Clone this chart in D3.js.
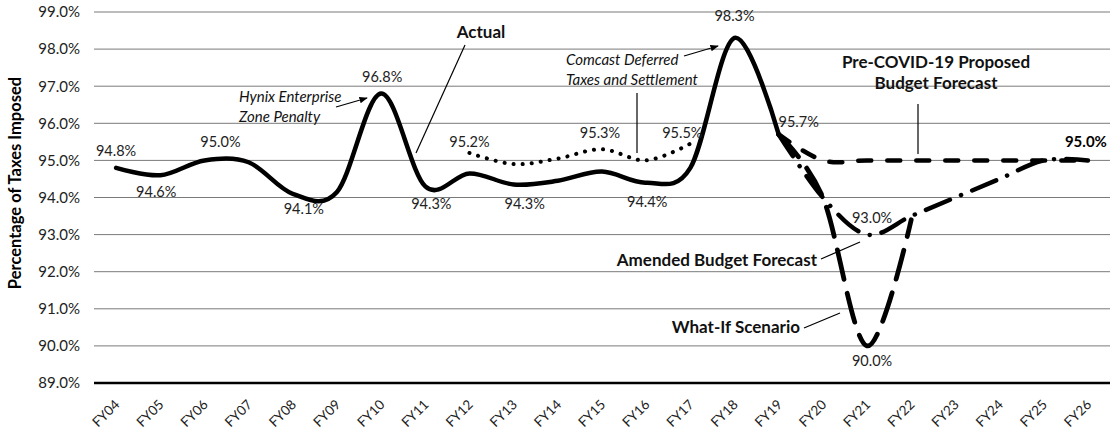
<!DOCTYPE html>
<html>
<head>
<meta charset="utf-8">
<script src="https://cdn.jsdelivr.net/npm/d3@7"></script>
<style>
  body { margin: 0; background: #fff; }
  svg { font-family: Lato, "Open Sans", sans-serif; }
</style>
</head>
<body>
<svg id="chart" width="1112" height="429"></svg>
<script>
// categories and series
var categories = ["FY04","FY05","FY06","FY07","FY08","FY09","FY10","FY11","FY12","FY13","FY14","FY15",
                  "FY16","FY17","FY18","FY19","FY20","FY21","FY22","FY23","FY24","FY25","FY26"];
var actualYears = categories.slice(0, 16);
var actual = [94.8, 94.6, 95.0, 94.95, 94.1, 94.15, 96.8, 94.3, 94.65, 94.35, 94.45, 94.7, 94.4, 94.8, 98.3, 95.7];
var comcastYears = ["FY12","FY13","FY14","FY15","FY16","FY17"];
var comcast = [95.2, 94.9, 95.05, 95.3, 95.0, 95.45];
var forecastYears = ["FY19","FY20","FY21","FY22","FY23","FY24","FY25","FY26"];
var preCovid = [95.7, 95.0, 95.0, 95.0, 95.0, 95.0, 95.0, 95.0];
var amended = [95.7, 94.0, 93.0, 93.5, 94.0, 94.5, 95.0, 95.0];
var whatIfYears = ["FY19","FY20","FY21","FY22"];
var whatIf = [95.7, 94.0, 90.0, 93.4];
var yTicks = [89, 90, 91, 92, 93, 94, 95, 96, 97, 98, 99];

var svg = d3.select("#chart"),
    margin = {top: 12, left: 94, right: 2, bottom: 46},
    width = 1112 - margin.left - margin.right,
    height = 429 - margin.top - margin.bottom;

var x = d3.scalePoint().domain(categories).range([margin.left, margin.left + width]).padding(0.5);
var y = d3.scaleLinear().domain([89, 99]).range([margin.top + height, margin.top]);
var fmt = function(v) { return v.toFixed(1) + "%"; };

// gridlines
svg.append("g")
    .selectAll("line")
    .data(yTicks.filter(function(t) { return t > 89; }))
    .enter()
    .append("line")
    .attr("x1", margin.left).attr("x2", margin.left + width)
    .attr("y1", function(d) { return y(d); }).attr("y2", function(d) { return y(d); })
    .attr("stroke", "#7a7a7a").attr("stroke-width", 1);

// y axis labels
var yAxis = svg.append("g")
    .attr("transform", "translate(" + margin.left + ",0)")
    .call(d3.axisLeft(y).tickValues(yTicks).tickFormat(fmt).tickSize(0).tickPadding(14));
yAxis.select(".domain").remove();
yAxis.selectAll("text").attr("font-size", 15).attr("fill", "#222").style("font-family", "Lato");

// baseline
svg.append("line")
    .attr("x1", margin.left).attr("x2", margin.left + width)
    .attr("y1", y(89)).attr("y2", y(89))
    .attr("stroke", "#000").attr("stroke-width", 2.5);

// x labels, rotated 45 degrees
var xLab = svg.append("g")
    .selectAll("g")
    .data(categories)
    .enter()
    .append("g")
    .attr("transform", function(d) { return "translate(" + (x(d) + 1) + "," + (y(89) + 19) + ")"; });
xLab.append("text")
    .attr("transform", "rotate(-45)")
    .style("text-anchor", "end")
    .attr("dy", "0.35em")
    .attr("font-size", 13.5).attr("fill", "#222")
    .text(function(d) { return d; });

// axis title
svg.append("text")
    .attr("transform", "translate(21," + 183 + ") rotate(-90)")
    .attr("text-anchor", "middle")
    .attr("font-size", 16.5).attr("font-weight", "bold")
    .text("Percentage of Taxes Imposed");

var line = d3.line()
    .x(function(d) { return x(d.year); })
    .y(function(d) { return y(d.value); })
    .curve(d3.curveCatmullRom.alpha(0));

function pairs(years, values) {
    return years.map(function(t, i) { return {year: t, value: values[i]}; });
}

function drawSeries(data, dash, w) {
    svg.append("path")
        .datum(data)
        .attr("d", line)
        .attr("fill", "none")
        .attr("stroke", "#000")
        .attr("stroke-width", w)
        .attr("stroke-linecap", "round")
        .attr("stroke-dasharray", dash);
}

drawSeries(pairs(comcastYears, comcast), "0.1 9", 4);
drawSeries(pairs(forecastYears, preCovid), "13 16", 4.5);
drawSeries(pairs(whatIfYears, whatIf), "30 14", 4.8);
drawSeries(pairs(forecastYears, amended), "26 12 0.1 12", 4.5);
drawSeries(pairs(actualYears, actual), null, 4.5);

// data labels: series, year, offset
var series = {actual: [actualYears, actual], comcast: [comcastYears, comcast],
              amended: [forecastYears, amended], whatIf: [whatIfYears, whatIf], preCovid: [forecastYears, preCovid]};
var labels = [
    ["actual", "FY04", 0, -17], ["actual", "FY05", -4, 17], ["actual", "FY06", 16, -18],
    ["actual", "FY08", 11, 15], ["actual", "FY10", 1, -17], ["actual", "FY11", 6, 18],
    ["comcast", "FY12", 0, -11], ["actual", "FY13", 11, 19], ["comcast", "FY15", -2, -16],
    ["actual", "FY16", 1, 19], ["comcast", "FY17", -8, -11], ["actual", "FY18", 0, -22],
    ["actual", "FY19", 20, -13], ["amended", "FY21", 5, -17], ["whatIf", "FY21", 5, 15]
];
labels.forEach(function(l) {
    var s = series[l[0]], v = s[1][s[0].indexOf(l[1])];
    svg.append("text")
        .attr("x", x(l[1]) + l[2]).attr("y", y(v) + l[3])
        .attr("dy", "0.35em").attr("text-anchor", "middle")
        .attr("font-size", 14.5).attr("fill", "#222")
        .text(fmt(v));
});
svg.append("text")
    .attr("x", x("FY26") - 2).attr("y", y(preCovid[7]) - 19)
    .attr("dy", "0.35em").attr("text-anchor", "middle")
    .attr("font-size", 15).attr("font-weight", "bold")
    .text(fmt(preCovid[7]));

// arrow marker
svg.append("defs").append("marker")
    .attr("id", "arrow").attr("viewBox", "0 0 10 10")
    .attr("refX", 9).attr("refY", 5)
    .attr("markerWidth", 7).attr("markerHeight", 7)
    .attr("orient", "auto")
    .append("path").attr("d", "M0,1 L10,5 L0,9 Z").attr("fill", "#000");

function leader(x1, y1, x2, y2, arrow) {
    var l = svg.append("line")
        .attr("x1", x1).attr("y1", y1).attr("x2", x2).attr("y2", y2)
        .attr("stroke", "#000").attr("stroke-width", 1.2);
    if (arrow) l.attr("marker-end", "url(#arrow)");
}

function note(tx, ty, lines, opts) {
    var t = svg.append("text")
        .attr("x", tx).attr("y", ty)
        .attr("text-anchor", opts.anchor || "start")
        .attr("font-size", opts.size)
        .attr("font-weight", opts.bold ? "bold" : "normal")
        .attr("font-style", opts.italic ? "italic" : "normal")
        .attr("fill", "#111");
    lines.forEach(function(s, i) {
        t.append("tspan").attr("x", tx).attr("dy", i === 0 ? "0.35em" : opts.lh).text(s);
    });
}

note(239, 97, ["Hynix Enterprise", "Zone Penalty"], {italic: true, size: 15, lh: 20});
leader(336, 107, 367, 98, true);

note(481, 32, ["Actual"], {bold: true, size: 17, anchor: "middle"});
leader(465, 45, 416, 153);

note(566, 60, ["Comcast Deferred", "Taxes and Settlement"], {italic: true, size: 15, lh: 20});
leader(684, 56, 718, 46, true);
leader(637, 93, 637, 153);

note(936, 62, ["Pre-COVID-19 Proposed", "Budget Forecast"], {bold: true, size: 17, anchor: "middle", lh: 21});
leader(918, 104, 918, 154);

note(817, 260, ["Amended Budget Forecast"], {bold: true, size: 17, anchor: "end"});
leader(821, 259, 860, 242);

note(800, 327, ["What-If Scenario"], {bold: true, size: 17, anchor: "end"});
leader(804, 328, 840, 313);
</script>
</body>
</html>
